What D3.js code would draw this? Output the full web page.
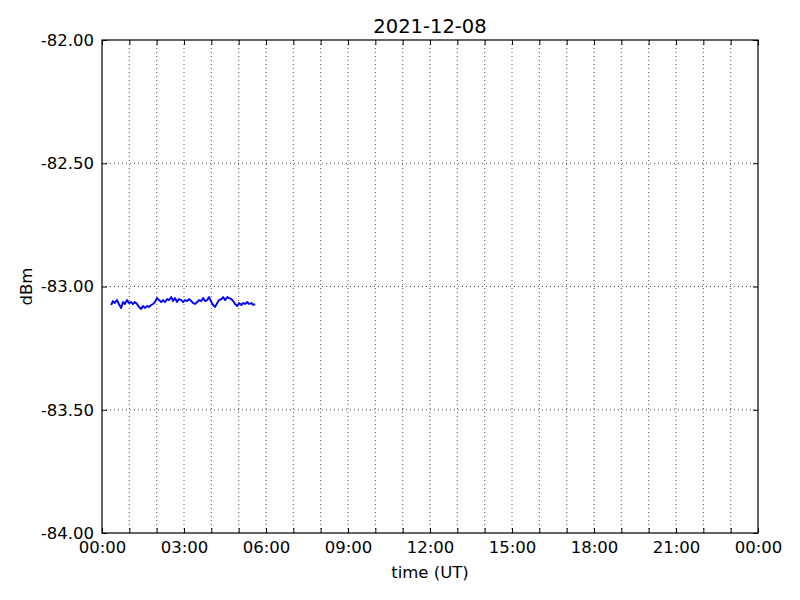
<!DOCTYPE html>
<html>
<head>
<meta charset="utf-8">
<script src="https://cdn.jsdelivr.net/npm/d3@7"></script>
<style>
  body { margin: 0; background: #fff; }
  svg text { font-family: "DejaVu Sans", sans-serif; fill: #000; }
</style>
</head>
<body>
<div id="chart"></div>
<script>
// samples (UT time, dBm)
const times = ["00:20","00:24","00:28","00:33","00:37","00:42","00:46","00:50","00:55","00:59",
    "01:04","01:08","01:12","01:17","01:21","01:26","01:30","01:34","01:39","01:43",
    "01:48","01:52","01:56","02:01","02:05","02:10","02:14","02:18","02:23","02:27",
    "02:32","02:36","02:40","02:45","02:49","02:54","02:58","03:02","03:07","03:11",
    "03:16","03:20","03:24","03:29","03:33","03:38","03:42","03:46","03:51","03:55",
    "04:00","04:04","04:08","04:13","04:17","04:22","04:26","04:30","04:35","04:39",
    "04:44","04:48","04:52","04:57","05:01","05:06","05:10","05:14","05:19","05:23",
    "05:28","05:32","05:36"];
const values = [-83.075,-83.059,-83.067,-83.055,-83.071,-83.087,-83.063,-83.071,-83.055,-83.067,
    -83.063,-83.071,-83.063,-83.071,-83.083,-83.091,-83.079,-83.087,-83.079,-83.083,
    -83.075,-83.071,-83.063,-83.047,-83.055,-83.063,-83.055,-83.063,-83.051,-83.055,
    -83.043,-83.059,-83.047,-83.063,-83.051,-83.055,-83.063,-83.055,-83.059,-83.051,
    -83.059,-83.067,-83.071,-83.063,-83.055,-83.059,-83.047,-83.059,-83.055,-83.043,
    -83.063,-83.075,-83.083,-83.067,-83.055,-83.051,-83.043,-83.055,-83.043,-83.047,
    -83.051,-83.059,-83.071,-83.079,-83.067,-83.075,-83.067,-83.071,-83.063,-83.071,
    -83.067,-83.075,-83.071];
const yTicks = [-84, -83.5, -83, -82.5, -82];
const day = "2021-12-08";

const width = 800, height = 600;
const margin = {top: 40, right: 42, bottom: 67, left: 102};
const parse = d3.utcParse("%Y-%m-%d %H:%M");
const t0 = d3.utcParse("%Y-%m-%d")(day);
const t1 = d3.utcDay.offset(t0, 1);

const data = times.map((t, i) => ({t: parse(day + " " + t), v: values[i]}));

const svg = d3.select("#chart").append("svg")
    .attr("width", width)
    .attr("height", height);

const x = d3.scaleUtc().domain([t0, t1]).range([margin.left, width - margin.right]);
const y = d3.scaleLinear().domain([-84, -82]).range([height - margin.bottom, margin.top]);

const hours = d3.utcHour.range(t0, d3.utcHour.offset(t1, 1));
const fmt = d3.utcFormat("%H:%M");

// grid
svg.append("g").selectAll("line").data(hours.slice(1, -1)).join("line")
    .attr("x1", d => x(d)).attr("x2", d => x(d))
    .attr("y1", y(-82)).attr("y2", y(-84))
    .attr("stroke", "#000").attr("stroke-width", 0.7).attr("stroke-dasharray", "1,3");
svg.append("g").selectAll("line").data(yTicks.slice(1, -1)).join("line")
    .attr("x1", x(t0)).attr("x2", x(t1))
    .attr("y1", d => y(d)).attr("y2", d => y(d))
    .attr("stroke", "#000").attr("stroke-width", 0.7).attr("stroke-dasharray", "1,3");

// data line
svg.append("path").datum(data)
    .attr("fill", "none")
    .attr("stroke", "#0000ff")
    .attr("stroke-width", 1.9)
    .attr("stroke-linejoin", "round")
    .attr("d", d3.line().x(d => x(d.t)).y(d => y(d.v)));

// axes, ticks pointing inward
const tickFmt = d => (d.getUTCHours() % 3 === 0 ? fmt(d) : "");
const xb = svg.append("g").attr("transform", `translate(0,${y(-84)})`)
    .call(d3.axisBottom(x).tickValues(hours.slice(0, 25)).tickFormat(tickFmt).tickSizeInner(-5).tickSizeOuter(0).tickPadding(8));
const xt = svg.append("g").attr("transform", `translate(0,${y(-82)})`)
    .call(d3.axisTop(x).tickValues(hours.slice(0, 25)).tickFormat("").tickSizeInner(-5).tickSizeOuter(0));
const yl = svg.append("g").attr("transform", `translate(${x(t0)},0)`)
    .call(d3.axisLeft(y).tickValues(yTicks).tickFormat(d3.format(".2f")).tickSizeInner(-5).tickSizeOuter(0).tickPadding(8));
const yr = svg.append("g").attr("transform", `translate(${x(t1)},0)`)
    .call(d3.axisRight(y).tickValues(yTicks).tickFormat("").tickSizeInner(-5).tickSizeOuter(0));

[xb, xt, yl, yr].forEach(g => {
    g.select(".domain").remove();
    g.selectAll("line").attr("stroke", "#000");
    g.selectAll("text").attr("font-size", "16.5px").attr("font-family", "DejaVu Sans");
});
yl.selectAll("text").text(d => d3.format(".2f")(d).replace("\u2212", "-"));

// frame
svg.append("rect")
    .attr("x", x(t0)).attr("y", y(-82))
    .attr("width", x(t1) - x(t0)).attr("height", y(-84) - y(-82))
    .attr("fill", "none").attr("stroke", "#000").attr("stroke-width", 1.2);

svg.append("text")
    .attr("x", (x(t0) + x(t1)) / 2).attr("y", 33)
    .attr("text-anchor", "middle").attr("font-size", "19.5px")
    .text(day);
svg.append("text")
    .attr("x", (x(t0) + x(t1)) / 2).attr("y", 578)
    .attr("text-anchor", "middle").attr("font-size", "16.5px")
    .text("time (UT)");
svg.append("text")
    .attr("transform", `translate(32,${(y(-82) + y(-84)) / 2}) rotate(-90)`)
    .attr("text-anchor", "middle").attr("font-size", "16.5px")
    .text("dBm");
</script>
</body>
</html>
